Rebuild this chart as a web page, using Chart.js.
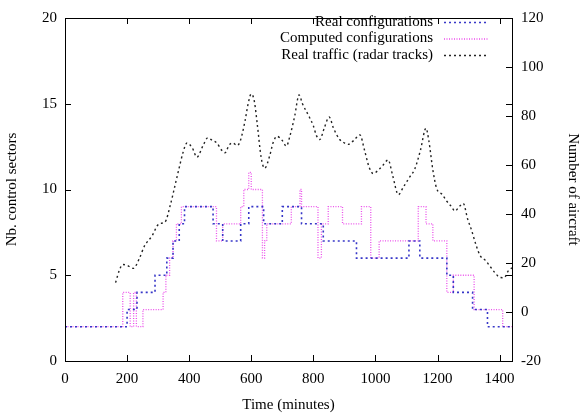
<!DOCTYPE html>
<html>
<head>
<meta charset="utf-8">
<script src="https://cdn.jsdelivr.net/npm/chart.js@4/dist/chart.umd.min.js"></script>
<style>
  html, body { margin: 0; padding: 0; background: #fff; }
  #wrap { width: 585px; height: 415px; }
</style>
</head>
<body>
<div id="wrap"><canvas id="sectorsChart" width="585" height="415"></canvas></div>
<script>
// ===============================
// DONNÉES
// ===============================

// configurations réelles (début de chaque palier, nb de secteurs)
const realTimes   = [0, 200, 232, 290, 328, 348, 368, 385, 477, 508, 566, 592, 640, 700, 762, 832, 939, 1108, 1143, 1230, 1251, 1313, 1361, 1440];
const realSectors = [2, 3, 4, 5, 6, 7, 8, 9, 8, 7, 8, 9, 8, 9, 8, 7, 6, 7, 6, 5, 4, 3, 2, 2];

// configurations calculées
const compTimes   = [0, 186, 210, 221, 230, 251, 316, 325, 337, 348, 359, 375, 488, 508, 566, 576, 592, 600, 636, 643, 650, 729, 757, 762, 815, 826, 848, 894, 955, 985, 1012, 1138, 1163, 1185, 1230, 1251, 1318, 1410, 1440];
const compSectors = [2, 4, 2, 4, 2, 3, 4, 5, 6, 7, 8, 9, 7, 8, 9, 10, 11, 10, 6, 7, 8, 9, 10, 9, 6, 8, 9, 8, 9, 6, 7, 9, 8, 7, 4, 5, 3, 2, 2];

// trafic réel (pistes radar), axe de droite
const trafficTimes = [163, 175, 186, 200, 220, 240, 255, 280, 303, 322, 340, 355, 367, 380, 393, 410, 425, 445, 460, 475, 489, 505, 516, 528, 540, 555, 565, 580, 590, 600, 610, 620, 632, 643, 660, 670, 683, 700, 713, 725, 740, 754, 765, 787, 800, 810, 821, 835, 851, 865, 885, 900, 912, 930, 950, 965, 980, 993, 1010, 1025, 1041, 1055, 1074, 1090, 1110, 1127, 1145, 1163, 1172, 1185, 1197, 1215, 1230, 1245, 1256, 1270, 1283, 1297, 1310, 1325, 1337, 1355, 1369, 1385, 1402, 1415, 1428, 1440];
const trafficValues = [12, 17, 19.4, 19, 17.8, 22, 26.7, 31, 36, 36.7, 44, 52, 58.4, 65, 69, 67, 63.2, 68, 71.1, 70, 69, 66, 65, 68, 69, 68, 70, 78, 85, 89, 86, 76, 63, 58.7, 64, 69, 71.7, 70, 67.7, 72, 80, 88.6, 85, 79.6, 76, 72, 70.4, 75, 79.6, 75, 70.4, 69, 68.4, 70, 72.3, 66, 59, 56.5, 58, 60, 62.1, 56, 47.9, 51, 55, 58.4, 66, 75, 70, 58, 50.5, 48, 45.2, 43, 41.2, 43, 44.3, 38, 33.3, 27, 23.1, 21, 18.7, 16, 14.1, 14, 16.8, 18];

// graduations
const xTicks     = [0, 200, 400, 600, 800, 1000, 1200, 1400];
const leftTicks  = [0, 5, 10, 15, 20];
const rightTicks = [-20, 0, 20, 40, 60, 80, 100, 120];

const toPoints = (xs, ys) => xs.map((x, i) => ({ x: x, y: ys[i] }));
const plainLabel = v => String(v);   // pas de séparateur de milliers

// ===============================
// CADRE, GRADUATIONS INTÉRIEURES ET LÉGENDE (style gnuplot)
// ===============================

const gnuplotFrame = {
    id: 'gnuplotFrame',
    afterDraw(chart) {
        const c = chart.ctx;
        const a = chart.chartArea;
        const s = chart.scales;
        const tl = 6;
        c.save();
        c.strokeStyle = '#000';
        c.lineWidth = 1;
        c.setLineDash([]);
        c.strokeRect(Math.round(a.left) + 0.5, Math.round(a.top) + 0.5, Math.round(a.right - a.left), Math.round(a.bottom - a.top));

        c.beginPath();
        s.x.ticks.forEach(t => {
            const px = Math.round(s.x.getPixelForValue(t.value)) + 0.5;
            c.moveTo(px, a.bottom); c.lineTo(px, a.bottom - tl);
            c.moveTo(px, a.top);    c.lineTo(px, a.top + tl);
        });
        s.y.ticks.forEach(t => {
            const py = Math.round(s.y.getPixelForValue(t.value)) + 0.5;
            c.moveTo(a.left, py);  c.lineTo(a.left + tl, py);
            c.moveTo(a.right, py); c.lineTo(a.right - tl, py);
        });
        s.y1.ticks.forEach(t => {
            const py = Math.round(s.y1.getPixelForValue(t.value)) + 0.5;
            c.moveTo(a.right, py); c.lineTo(a.right - tl, py);
        });
        c.stroke();

        // légende en haut à droite
        c.font = "15px 'Liberation Serif', 'DejaVu Serif', serif";
        c.fillStyle = '#000';
        c.textAlign = 'right';
        c.textBaseline = 'middle';
        chart.data.datasets.forEach((ds, i) => {
            const y = 22 + i * 16.5;
            c.fillText(ds.label, 433, y);
            c.strokeStyle = ds.borderColor;
            c.lineWidth = ds.borderWidth;
            c.setLineDash(ds.borderDash);
            c.beginPath();
            c.moveTo(444, y + 0.5);
            c.lineTo(488, y + 0.5);
            c.stroke();
        });
        c.restore();
    }
};

// ===============================
// GRAPHIQUE
// ===============================

Chart.defaults.font.family = "'Liberation Serif', 'DejaVu Serif', serif";
Chart.defaults.font.size = 15;
Chart.defaults.color = '#000';

new Chart(document.getElementById('sectorsChart').getContext('2d'), {
    type: 'line',
    data: {
        datasets: [
            {
                label: 'Real configurations',
                data: toPoints(realTimes, realSectors),
                yAxisID: 'y',
                stepped: 'before',   // palier horizontal puis saut vertical
                borderColor: 'rgb(55,55,200)',
                borderWidth: 1.6,
                borderDash: [2, 3],
                pointRadius: 0,
                fill: false
            },
            {
                label: 'Computed configurations',
                data: toPoints(compTimes, compSectors),
                yAxisID: 'y',
                stepped: 'before',
                borderColor: 'rgb(235,80,235)',
                borderWidth: 1.3,
                borderDash: [1, 1.5],
                pointRadius: 0,
                fill: false
            },
            {
                label: 'Real traffic (radar tracks)',
                data: toPoints(trafficTimes, trafficValues),
                yAxisID: 'y1',
                borderColor: '#222',
                borderWidth: 1.4,
                borderDash: [2, 3],
                cubicInterpolationMode: 'monotone',
                pointRadius: 0,
                fill: false
            }
        ]
    },
    options: {
        responsive: false,
        animation: false,
        layout: { padding: { top: 8, left: 0, right: 0, bottom: 0 } },
        plugins: { legend: { display: false }, tooltip: { enabled: false } },
        scales: {
            x: {
                type: 'linear',
                min: 0,
                max: 1440,
                afterBuildTicks: s => { s.ticks = xTicks.map(v => ({ value: v })); },
                afterFit: s => { s.height = 54; },
                grid: { display: false, drawTicks: false },
                border: { display: false },
                ticks: { padding: 9, maxRotation: 0, callback: plainLabel },
                title: { display: true, text: 'Time (minutes)', padding: { top: 0, bottom: 1 } }
            },
            y: {
                position: 'left',
                min: 0,
                max: 20,
                afterBuildTicks: s => { s.ticks = leftTicks.map(v => ({ value: v })); },
                afterFit: s => { s.width = 65; },
                grid: { display: false, drawTicks: false },
                border: { display: false },
                ticks: { padding: 8, callback: plainLabel },
                title: { display: true, text: 'Nb. control sectors', padding: { top: 3, bottom: 0 } }
            },
            y1: {
                position: 'right',
                min: -20,
                max: 120,
                afterBuildTicks: s => { s.ticks = rightTicks.map(v => ({ value: v })); },
                afterFit: s => { s.width = 73; },
                grid: { display: false, drawTicks: false },
                border: { display: false },
                ticks: { padding: 9, callback: plainLabel },
                title: { display: true, text: 'Number of aircraft', padding: { top: 3, bottom: 0 } }
            }
        }
    },
    plugins: [gnuplotFrame]
});
</script>
</body>
</html>
